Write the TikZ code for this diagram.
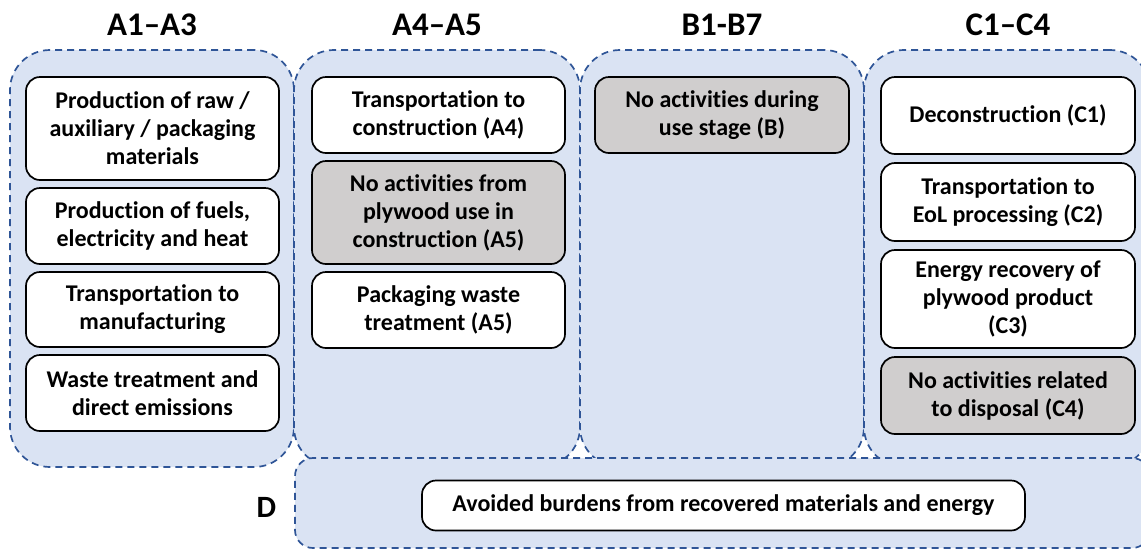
\documentclass[tikz,border=0pt]{standalone}
\usepackage{fontspec}
\setmainfont{Carlito}[Ligatures={NoCommon}]
\definecolor{fillblue}{HTML}{DAE3F3}
\definecolor{dashblue}{HTML}{2F5597}
\definecolor{graybox}{HTML}{D0CECE}
\begin{document}
\begin{tikzpicture}[x=1pt,y=-1pt,
  stage/.style={draw=dashblue, fill=fillblue, line width=1.7pt,
    dash pattern=on 7pt off 5pt, rounded corners=40pt, inner sep=0pt,
    minimum height=417pt},
  dstage/.style={draw=dashblue, fill=fillblue, line width=1.7pt,
    dash pattern=on 7pt off 5pt, rounded corners=18pt, inner sep=0pt},
  act/.style={draw=black, fill=white, line width=1.7pt, rounded corners=14pt,
    inner sep=0pt, align=center, minimum width=253pt,
    font=\fontsize{24}{28}\selectfont\bfseries},
  noact/.style={act, fill=graybox},
  head/.style={anchor=base, inner sep=0pt, font=\fontsize{33}{36}\selectfont\bfseries}
]
\useasboundingbox (0,0) rectangle (1141,550);
% stage frames
\node[stage, minimum width=284pt] (sA) at (152,258.5) {};
\node[stage, minimum width=286pt] (sB) at (437,258.5) {};
\node[stage, minimum width=284pt] (sC) at (722,258.5) {};
\node[stage, minimum width=286pt] (sD) at (1007,258.5) {};
\node[dstage, minimum width=855pt, minimum height=90pt] (sE) at (722.5,503) {};
% headings
\node[head] (hA) at (152,35) {A1–A3};
\node[head] (hB) at (437,35) {A4–A5};
\node[head] (hC) at (722,35) {B1-B7};
\node[head] (hD) at (1008,35) {C1–C4};
\node[head, font=\fontsize{31}{34}\selectfont\bfseries] (hE) at (266.5,517) {D};
% A1-A3
\node[act, minimum height=103pt] (a1) at (152.5,128.5) {Production of raw /\\auxiliary / packaging\\materials};
\node[act, minimum height=76pt] (a2) at (152.5,226) {Production of fuels,\\electricity and heat};
\node[act, minimum height=75pt] (a3) at (152.5,309.5) {Transportation to\\manufacturing};
\node[act, minimum height=76pt] (a4) at (152.5,393) {Waste treatment and\\direct emissions};
% A4-A5
\node[act, minimum height=76pt] (b1) at (438.5,115) {Transportation to\\construction (A4)};
\node[noact, minimum height=103pt] (b2) at (438.5,212.5) {No activities from\\plywood use in\\construction (A5)};
\node[act, minimum height=76pt] (b3) at (438.5,310) {Packaging waste\\treatment (A5)};
% B
\node[noact, minimum width=254pt, minimum height=76pt] (u1) at (722,115) {No activities during\\use stage (B)};
% C
\node[act, minimum width=254pt, minimum height=77pt] (c1) at (1008,115.5) {Deconstruction (C1)};
\node[act, minimum width=254pt, minimum height=78pt] (c2) at (1008,202) {Transportation to\\EoL processing (C2)};
\node[act, minimum width=254pt, minimum height=98pt] (c3) at (1008,299) {Energy recovery of\\plywood product\\(C3)};
\node[noact, minimum width=254pt, minimum height=77pt] (c4) at (1008,395.5) {No activities related\\to disposal (C4)};
% D
\node[act, minimum width=603pt, minimum height=50pt] (d1) at (723.5,505.5) {Avoided burdens from recovered materials and energy};
\end{tikzpicture}
\end{document}
